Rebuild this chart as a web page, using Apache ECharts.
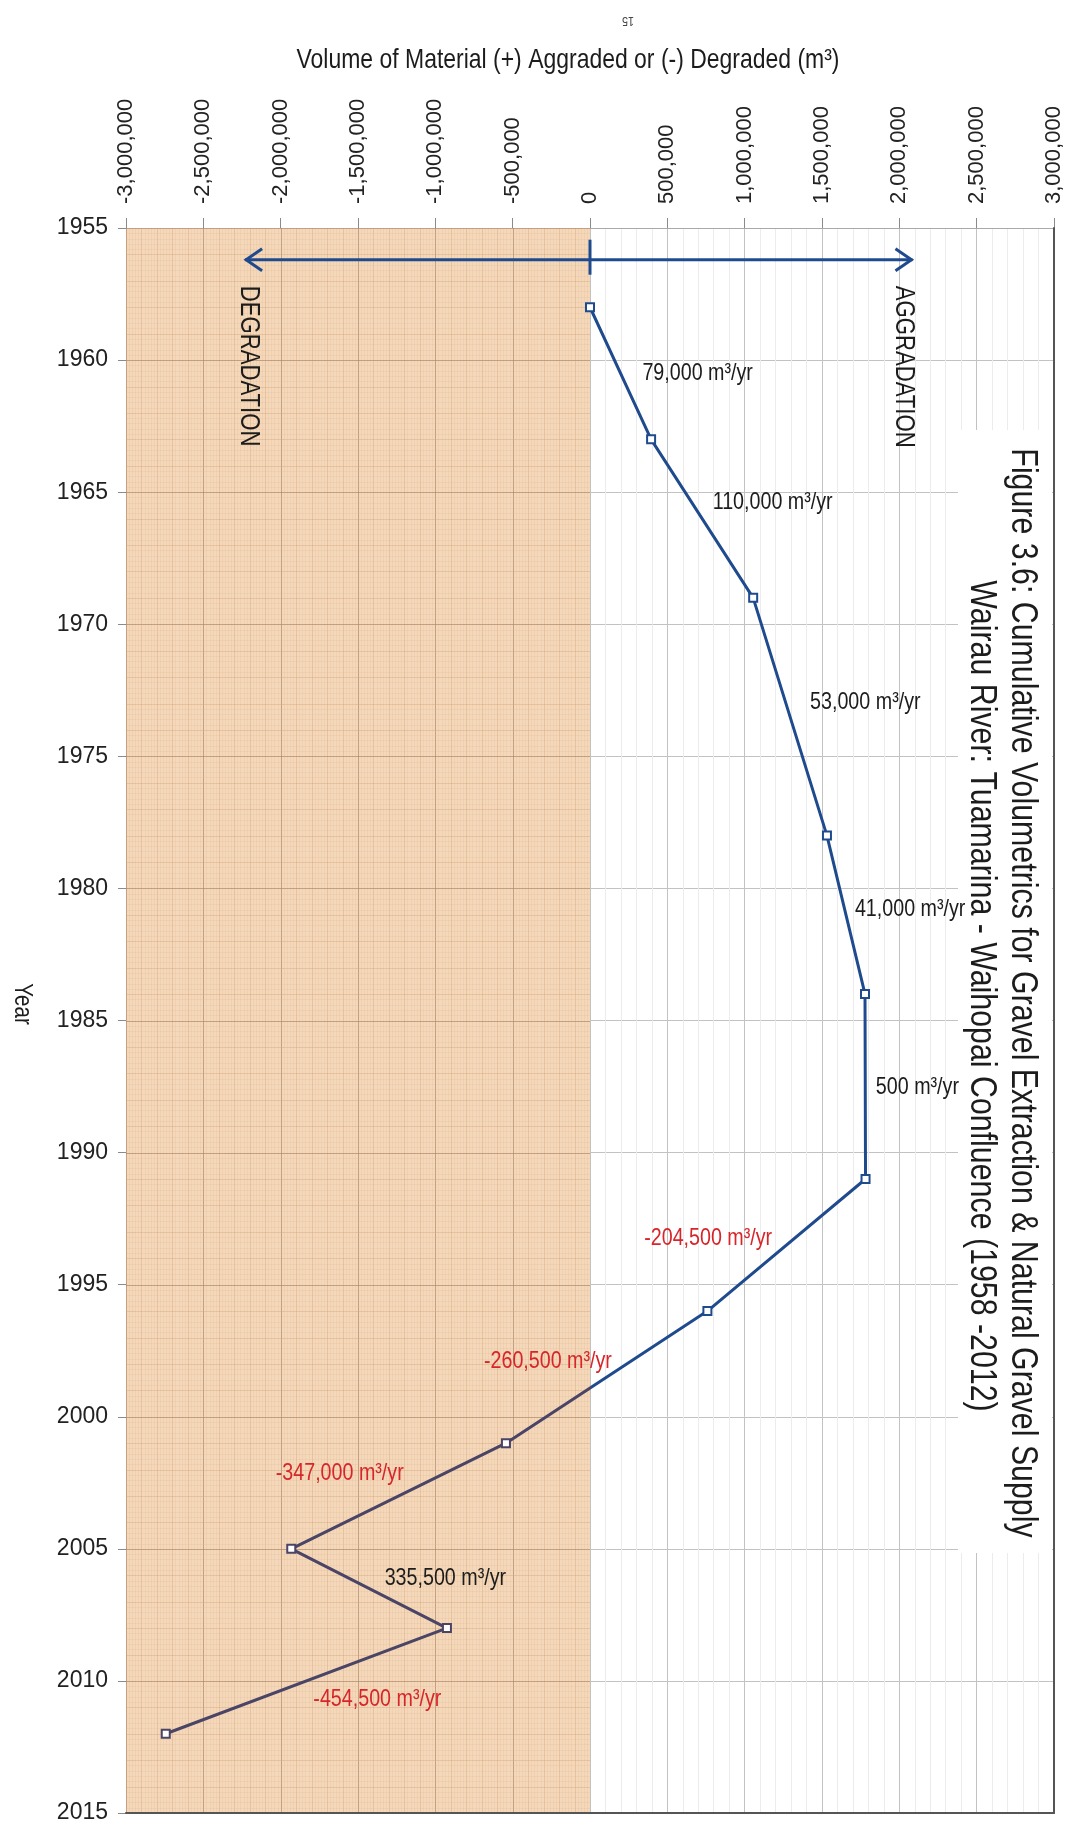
<!DOCTYPE html>
<html>
<head>
<meta charset="utf-8">
<title>Cumulative Volumetrics – Wairau River</title>
<script src="https://cdn.jsdelivr.net/npm/echarts/dist/echarts.min.js"></script>
<style>
  html, body { margin: 0; padding: 0; background: #ffffff; }
  #chart { width: 1075px; height: 1827px; }
</style>
</head>
<body>
<div id="chart"></div>
<script>
// Survey years and cumulative volume of material aggraded (+) or degraded (-), m³
const years = [1958, 1963, 1969, 1978, 1984, 1991, 1996, 2001, 2005, 2008, 2012];
const cumulativeVolume = [0, 395000, 1055000, 1532000, 1778000, 1781500, 759000, -543500, -1931500, -925000, -2743000];

// Average annual rate between consecutive surveys (m³/yr)
const rateLabels = ['79,000', '110,000', '53,000', '41,000', '500', '-204,500', '-260,500', '-347,000', '335,500', '-454,500'];
// Where each rate label is centred, as [volume, year]
const rateLabelAnchors = [
  [696000, 1960.49], [1181000, 1965.37], [1780000, 1972.94], [2070000, 1980.81], [2117000, 1987.55],
  [764000, 1993.23], [-272000, 1997.92], [-1618000, 2002.16], [-935000, 2006.10], [-1375000, 2010.71]
];

// Axis ranges
const volumeRange = [-3000000, 3000000];
const yearRange = [1955, 2015];
// Shaded degradation half of the chart
const degradationSpan = [-3000000, 0];
// Aggradation / degradation direction arrow
const arrowYear = 1956.2;
const arrowEnds = [-2230000, 2085000];

const FONT = "'Liberation Sans', Arial, sans-serif";
const NARROW = 0.82;          // horizontal squeeze for the condensed lettering
const INK = '#1c1c1c';
const BLUE = '#1f4b8e';
const DARK = '#4a4466';
const RED = '#d7262a';

const chart = echarts.init(document.getElementById('chart'), null, { renderer: 'canvas' });

function crisp(v) { return Math.round(v) + 0.5; }

// Graph-paper fill for the degradation side
function renderDegradationZone(params, api) {
  const cs = params.coordSys;
  const xa = api.coord([api.value(0), yearRange[0]])[0];
  const xb = api.coord([api.value(1), yearRange[0]])[0];
  const top = cs.y, bottom = cs.y + cs.height;
  const children = [{
    type: 'rect',
    shape: { x: xa, y: top, width: xb - xa, height: bottom - top },
    style: { fill: '#f4d8b9' }
  }];
  const rule = (k) => k % 25 === 0 ? 'rgba(170,130,100,0.65)'
    : (k % 5 === 0 ? 'rgba(210,165,125,0.42)' : 'rgba(220,180,140,0.2)');
  for (let k = 0; k < 150; k++) {
    const x = crisp(api.coord([api.value(0) + k * 20000, yearRange[0]])[0]);
    children.push({ type: 'line', shape: { x1: x, y1: top, x2: x, y2: bottom }, style: { stroke: rule(k), lineWidth: 1 } });
  }
  for (let k = 0; k <= (yearRange[1] - yearRange[0]) * 5; k++) {
    const y = crisp(api.coord([0, yearRange[0] + k / 5])[1]);
    children.push({ type: 'line', shape: { x1: xa, y1: y, x2: xb, y2: y }, style: { stroke: rule(k), lineWidth: 1 } });
  }
  return { type: 'group', children };
}

// Horizontal double arrow with labels either side of zero
function renderDirectionArrow(params, api) {
  const l = api.coord([arrowEnds[0], arrowYear]);
  const r = api.coord([arrowEnds[1], arrowYear]);
  const z0 = api.coord([0, arrowYear]);
  const style = { stroke: BLUE, lineWidth: 3, fill: null };
  const word = (text, x, y) => ({
    type: 'text', x, y, rotation: -Math.PI / 2, scaleX: NARROW,
    style: { text, font: '27px ' + FONT, fill: INK, textAlign: 'left', textVerticalAlign: 'middle' }
  });
  return {
    type: 'group',
    children: [
      { type: 'line', shape: { x1: l[0], y1: l[1], x2: r[0], y2: r[1] }, style },
      { type: 'polyline', shape: { points: [[l[0] + 17, l[1] - 11], [l[0] + 1, l[1]], [l[0] + 17, l[1] + 11]] }, style },
      { type: 'polyline', shape: { points: [[r[0] - 17, r[1] - 11], [r[0] - 1, r[1]], [r[0] - 17, r[1] + 11]] }, style },
      { type: 'line', shape: { x1: z0[0], y1: z0[1] - 20, x2: z0[0], y2: z0[1] + 15 }, style },
      word('DEGRADATION', l[0] + 3, l[1] + 26),
      word('AGGRADATION', r[0] - 9, r[1] + 26)
    ]
  };
}

// Rate annotations beside each segment
function renderRateLabel(params, api) {
  const i = params.dataIndex;
  const p = api.coord([api.value(0), api.value(1)]);
  return {
    type: 'text', x: p[0], y: p[1], scaleX: NARROW,
    style: {
      text: rateLabels[i] + ' m³/yr', font: '24px ' + FONT,
      fill: rateLabels[i].charAt(0) === '-' ? RED : INK,
      textAlign: 'center', textVerticalAlign: 'middle'
    }
  };
}

// Line colour switches from blue to slate where the volume crosses zero
const vMin = Math.min(...cumulativeVolume);
const vMax = Math.max(...cumulativeVolume);
const zeroAt = (0 - vMin) / (vMax - vMin);
const lineColour = new echarts.graphic.LinearGradient(0, 0, 1, 0, [
  { offset: 0, color: DARK }, { offset: zeroAt, color: DARK },
  { offset: zeroAt, color: BLUE }, { offset: 1, color: BLUE }
]);

const volumeFmt = (v) => Number(v).toLocaleString('en-US');

const option = {
  animation: false,
  backgroundColor: '#ffffff',
  textStyle: { fontFamily: FONT },
  grid: { left: 126, right: 21, top: 228, bottom: 14, containLabel: false, outerBoundsMode: 'none' },
  xAxis: [
    {
      type: 'value', position: 'top', min: volumeRange[0], max: volumeRange[1], interval: 500000,
      axisLine: { show: true, onZero: false, lineStyle: { color: '#a9a9a9', width: 1 } },
      axisTick: { show: true, inside: false, length: 10, lineStyle: { color: '#8a8a8a' } },
      axisLabel: { show: true, rotate: -90, margin: 24, fontSize: 22, color: '#222', fontFamily: FONT, formatter: volumeFmt },
      splitLine: { show: true, lineStyle: { color: '#c2c2c2', width: 1 } },
      minorTick: { show: false, splitNumber: 5 },
      minorSplitLine: { show: true, lineStyle: { color: '#ececec', width: 1 } }
    },
    {
      type: 'value', position: 'bottom', min: volumeRange[0], max: volumeRange[1], interval: 500000, z: 5,
      axisLine: { show: true, onZero: false, lineStyle: { color: '#555555', width: 2 } },
      axisTick: { show: false }, axisLabel: { show: false }, splitLine: { show: false }
    }
  ],
  yAxis: [
    {
      type: 'value', inverse: true, min: yearRange[0], max: yearRange[1], interval: 5,
      axisLine: { show: true, onZero: false, lineStyle: { color: '#a08f80', width: 1 } },
      axisTick: { show: true, inside: false, length: 8, lineStyle: { color: '#8a8a8a' } },
      axisLabel: { show: true, margin: 18, fontSize: 23, color: '#222', fontFamily: FONT, formatter: (v) => String(v) },
      splitLine: { show: true, lineStyle: { color: '#c2c2c2', width: 1 } }
    },
    {
      type: 'value', inverse: true, position: 'right', min: yearRange[0], max: yearRange[1], interval: 5, z: 5,
      axisLine: { show: true, onZero: false, lineStyle: { color: '#555555', width: 2 } },
      axisTick: { show: false }, axisLabel: { show: false }, splitLine: { show: false }
    }
  ],
  graphic: [
    // white panel behind the figure caption
    { type: 'rect', z: 1, shape: { x: 958, y: 430, width: 94, height: 1123 }, style: { fill: '#ffffff' } },
    { type: 'text', z: 10, x: 1022, y: 993, rotation: -Math.PI / 2, scaleX: NARROW,
      style: { text: 'Figure 3.6: Cumulative Volumetrics for Gravel Extraction & Natural Gravel Supply', font: '37px ' + FONT, fill: INK, textAlign: 'center', textVerticalAlign: 'middle' } },
    { type: 'text', z: 10, x: 981, y: 996, rotation: -Math.PI / 2, scaleX: NARROW,
      style: { text: 'Wairau River: Tuamarina - Waihopai Confluence (1958 -2012)', font: '37px ' + FONT, fill: INK, textAlign: 'center', textVerticalAlign: 'middle' } },
    { type: 'text', z: 10, x: 568, y: 60, scaleX: NARROW,
      style: { text: 'Volume of Material (+) Aggraded or (-) Degraded (m³)', font: '28px ' + FONT, fill: INK, textAlign: 'center', textVerticalAlign: 'middle' } },
    { type: 'text', z: 10, x: 22, y: 1004, rotation: -Math.PI / 2, scaleX: NARROW,
      style: { text: 'Year', font: '25px ' + FONT, fill: INK, textAlign: 'center', textVerticalAlign: 'middle' } },
    // page number, printed upside down on the turned page
    { type: 'text', z: 10, x: 628, y: 21, rotation: Math.PI, scaleX: NARROW,
      style: { text: '15', font: '13px ' + FONT, fill: '#444', textAlign: 'center', textVerticalAlign: 'middle' } }
  ],
  series: [
    {
      type: 'custom', name: 'degradation zone', z: 1, silent: true,
      xAxisIndex: 0, yAxisIndex: 0,
      renderItem: renderDegradationZone,
      data: [[degradationSpan[0], degradationSpan[1]]]
    },
    {
      type: 'custom', name: 'direction', z: 3, silent: true,
      xAxisIndex: 0, yAxisIndex: 0,
      renderItem: renderDirectionArrow,
      data: [[0, arrowYear]]
    },
    {
      type: 'line', name: 'Cumulative volume', z: 4,
      xAxisIndex: 0, yAxisIndex: 0,
      data: years.map((y, i) => ({
        value: [cumulativeVolume[i], y],
        itemStyle: { color: cumulativeVolume[i] < 0 ? DARK : BLUE }
      })),
      symbol: 'emptyRect', symbolSize: 8,
      lineStyle: { width: 3, color: lineColour },
      itemStyle: { borderWidth: 1.5 }
    },
    {
      type: 'custom', name: 'rates', z: 5, silent: true,
      xAxisIndex: 0, yAxisIndex: 0,
      renderItem: renderRateLabel,
      data: rateLabelAnchors
    }
  ]
};

chart.setOption(option);
</script>
</body>
</html>
